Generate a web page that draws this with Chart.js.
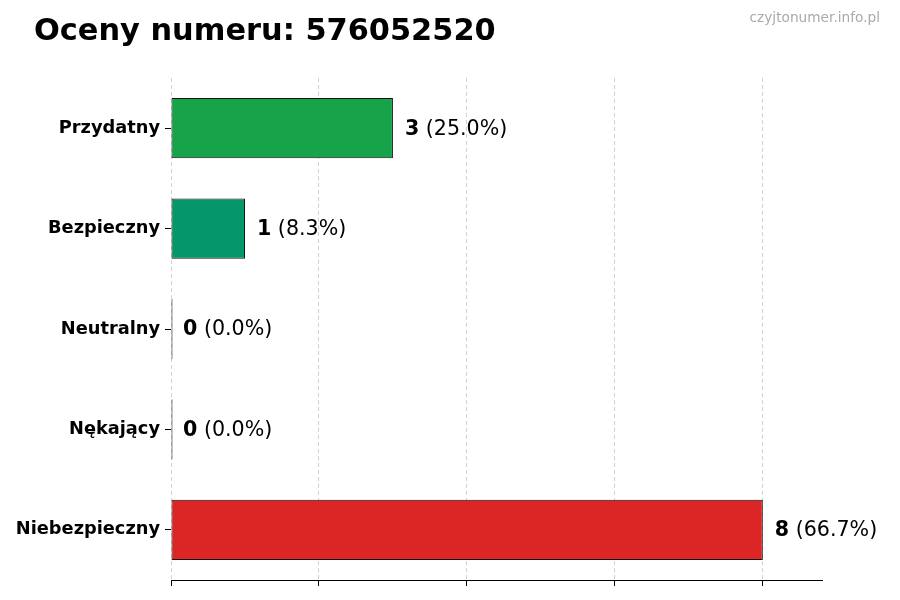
<!DOCTYPE html>
<html>
<head>
<meta charset="utf-8">
<script src="https://cdn.jsdelivr.net/npm/chart.js@4"></script>
<style>
html,body{margin:0;padding:0;background:#fff;}
#wrap{width:900px;height:600px;position:relative;}
</style>
</head>
<body>
<div id="wrap"><canvas id="c" width="900" height="600"></canvas></div>
<script>
const titleText = "Oceny numeru: 576052520";
const watermark = "czyjtonumer.info.pl";
const categories = ["Przydatny", "Bezpieczny", "Neutralny", "Nękający", "Niebezpieczny"];
const counts = [3, 1, 0, 0, 8];
const barColors = ["#16a34a", "#059669", "#6b7280", "#ea580c", "#dc2626"];
const xTicks = [0, 2, 4, 6, 8];
const xMax = 8.8;

const total = counts.reduce((a, b) => a + b, 0);
const FONT = "'DejaVu Sans', sans-serif";

const textPlugin = {
  id: 'texts',
  afterDatasetsDraw(chart) {
    const ctx = chart.ctx;
    const meta = chart.getDatasetMeta(0);
    ctx.save();
    ctx.textBaseline = 'middle';
    meta.data.forEach((bar, i) => {
      const v = counts[i];
      const pct = total ? (v / total * 100).toFixed(1) : '0.0';
      const x0 = chart.scales.x.getPixelForValue(v) + 12;
      const y = bar.y + 1;
      ctx.fillStyle = '#000';
      ctx.font = "bold 20.6px " + FONT;
      ctx.textAlign = 'left';
      const s1 = String(v);
      ctx.fillText(s1, x0, y);
      const w = ctx.measureText(s1).width;
      ctx.font = "20.6px " + FONT;
      ctx.fillText(" (" + pct + "%)", x0 + w, y);
    });
    ctx.restore();
  },
  afterDraw(chart) {
    const ctx = chart.ctx;
    ctx.save();
    ctx.textBaseline = 'alphabetic';
    ctx.fillStyle = '#000';
    ctx.font = "bold 30.4px " + FONT;
    ctx.textAlign = 'left';
    ctx.fillText(titleText, 34, 40);
    ctx.fillStyle = '#aaaaaa';
    ctx.font = "13.7px " + FONT;
    ctx.textAlign = 'right';
    ctx.fillText(watermark, 880, 22);
    ctx.restore();
  }
};

new Chart(document.getElementById('c'), {
  type: 'bar',
  data: {
    labels: categories,
    datasets: [{
      data: counts,
      backgroundColor: barColors,
      borderColor: '#111',
      borderWidth: 1,
      borderSkipped: false,
      barPercentage: 0.6,
      categoryPercentage: 1.0,
      minBarLength: 1.5
    }]
  },
  options: {
    indexAxis: 'y',
    responsive: false,
    animation: false,
    devicePixelRatio: 1,
    layout: { padding: { top: 78, right: 78, left: 0, bottom: 0 } },
    plugins: { legend: { display: false }, tooltip: { enabled: false }, title: { display: false } },
    scales: {
      x: {
        type: 'linear',
        min: 0,
        max: xMax,
        z: 1,
        afterBuildTicks(scale) { scale.ticks = xTicks.map(v => ({ value: v })); },
        afterFit(scale) { scale.height = 20; },
        ticks: { display: false, includeBounds: false },
        grid: {
          display: true,
          drawOnChartArea: true,
          drawTicks: true,
          tickLength: 6,
          color: 'rgba(180,180,180,0.6)',
          tickColor: '#000',
          tickWidth: 1,
          lineWidth: 1,
          tickBorderDash: [],
        },
        border: { display: true, color: '#000', width: 1, dash: [4, 3] }
      },
      y: {
        type: 'category',
        afterFit(scale) { scale.width = 171; },
        ticks: {
          color: '#000',
          font: { family: FONT, size: 17.8, weight: 'bold' },
          padding: 5
        },
        grid: {
          display: true,
          offset: false,
          drawOnChartArea: false,
          drawTicks: true,
          tickLength: 6,
          tickColor: '#000'
        },
        border: { display: false }
      }
    }
  },
  plugins: [textPlugin]
});
</script>
</body>
</html>
